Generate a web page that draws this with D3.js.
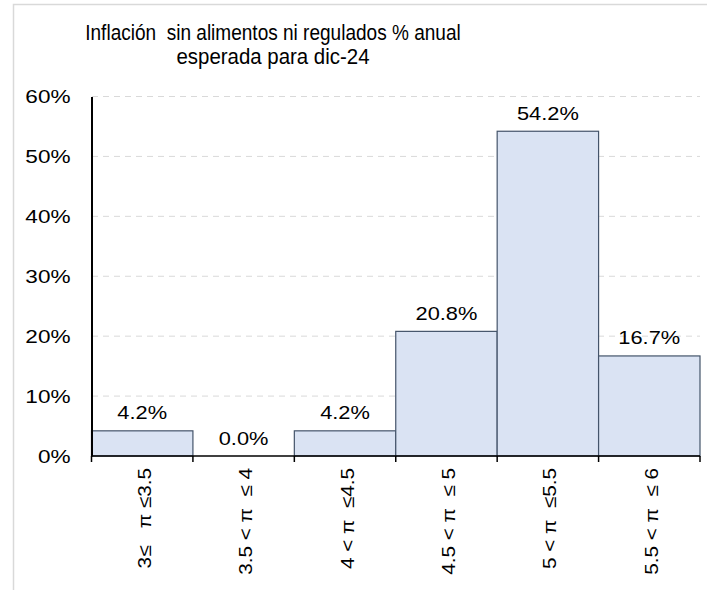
<!DOCTYPE html>
<html><head><meta charset="utf-8">
<script src="https://cdn.jsdelivr.net/npm/d3@7"></script>
<style>
html,body{margin:0;padding:0;background:#fff;}
text{font-family:"Liberation Sans",Arial,sans-serif;fill:#000;}
</style></head>
<body>
<svg id="chart" width="707" height="590"></svg>
<script>
const categories = ["3\u2264   \u03c0 \u22643.5", "3.5 < \u03c0  \u2264 4", "4 < \u03c0  \u22644.5", "4.5 < \u03c0  \u2264 5", "5 < \u03c0  \u22645.5", "5.5 < \u03c0  \u2264 6"];
const values = [4.2, 0.0, 4.2, 20.8, 54.2, 16.7];
const yTicks = [0, 10, 20, 30, 40, 50, 60];
const titleLines = ["Inflación  sin alimentos ni regulados % anual", "esperada para dic-24"];

const svg = d3.select("#chart");
function stretch(sel, k){ sel.each(function(d,i){ const f = typeof k === "function" ? k(d,i) : k; const w=this.getComputedTextLength(); d3.select(this).attr("textLength", w*f).attr("lengthAdjust","spacingAndGlyphs"); }); }

svg.append("rect").attr("x",13.5).attr("y",4.5).attr("width",800).attr("height",700)
  .attr("fill","none").attr("stroke","#d9d9d9").attr("stroke-width",1.5);

const x = d3.scaleBand().domain(categories).range([91.5, 700]).padding(0);
const y = d3.scaleLinear().domain([0, 60]).range([456, 96.5]);
const rows = values.map((v,i)=>({c:categories[i], v}));

// gridlines
svg.append("g").selectAll("line").data(yTicks.filter(d=>d>0)).join("line")
  .attr("x1",92).attr("x2",700).attr("y1",d=>y(d)).attr("y2",d=>y(d))
  .attr("stroke","#d9d9d9").attr("stroke-width",1).attr("stroke-dasharray","6,5");

// bars
svg.append("g").selectAll("rect").data(rows.filter(d=>d.v>0)).join("rect")
  .attr("x",d=>x(d.c)).attr("width",x.bandwidth()).attr("y",d=>y(d.v)).attr("height",d=>y(0)-y(d.v))
  .attr("fill","#dae3f3").attr("stroke","#44546a").attr("stroke-width",1.2);

// value labels
const vl = svg.append("g").selectAll("text").data(rows).join("text")
  .attr("x",d=>x(d.c)+x.bandwidth()/2).attr("y",d=>y(d.v)-11.5)
  .attr("text-anchor","middle").attr("font-size",18.5).text(d=>d.v.toFixed(1)+"%");
stretch(vl, 1.18);

// y axis
const yAxis = svg.append("g").attr("transform","translate(91.5,0)")
  .call(d3.axisLeft(y).tickValues(yTicks).tickSize(0).tickPadding(21).tickFormat(d=>d+"%"));
yAxis.select(".domain").attr("stroke","#000").attr("stroke-width",2);
yAxis.selectAll("text").attr("font-size",18.5).attr("font-family","Liberation Sans, Arial, sans-serif").attr("fill","#000").attr("dy","0.35em");
stretch(yAxis.selectAll("text"), 1.22);

// x axis
const bounds = categories.map(c=>x(c)).concat([x.range()[1]]);
svg.append("line").attr("x1",91.5).attr("x2",700).attr("y1",y(0)).attr("y2",y(0)).attr("stroke","#000").attr("stroke-width",1.5);
svg.append("g").selectAll("line").data(bounds).join("line")
  .attr("x1",d=>d).attr("x2",d=>d).attr("y1",y(0)).attr("y2",y(0)+6).attr("stroke","#000").attr("stroke-width",1.5);

const xl = svg.append("g").selectAll("text").data(categories).join("text")
  .attr("transform",d=>`translate(${x(d)+x.bandwidth()/2+2},468) rotate(-90)`)
  .attr("text-anchor","end").attr("dy","0.35em").attr("font-size",18.5)
  .style("white-space","pre").attr("xml:space","preserve").text(d=>d);
stretch(xl, 1.12);

// title
const tt = svg.append("g").selectAll("text").data(titleLines).join("text")
  .attr("x",273).attr("y",(d,i)=>39.5+i*24.5).attr("text-anchor","middle").attr("font-size",21.5)
  .style("white-space","pre").text(d=>d);
stretch(tt, (d,i)=> i===0 ? 0.885 : 0.95);
</script>
</body></html>
